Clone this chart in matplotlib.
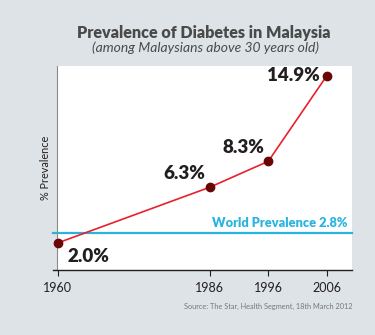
import matplotlib
matplotlib.use("Agg")
import matplotlib.pyplot as plt

years = [1960, 1986, 1996, 2006]
prevalence = [2.0, 6.3, 8.3, 14.9]
labels = ["2.0%", "6.3%", "8.3%", "14.9%"]
world_prevalence = 2.8
tick_years = [1960, 1986, 1996, 2006]

bg = "#dde3e6"
plt.rcParams['font.family'] = ['Lato', 'DejaVu Sans']

fig = plt.figure(figsize=(3.75, 3.35), dpi=100, facecolor=bg)
ax = fig.add_axes([57.5/375, 1 - 270/335, (352-57.5)/375, (270-66)/335])
ax.set_facecolor("white")

ax.plot(years, prevalence, color="#e8202a", lw=1.2, zorder=3)
ax.plot(years, prevalence, 'o', color="#6b0505", ms=6, zorder=4, clip_on=False)
ax.axhline(world_prevalence, color="#29b4e0", lw=1.6, zorder=2, xmin=-0.015, clip_on=False)
ax.text(2009.5, world_prevalence + 0.25, "World Prevalence 2.8%", color="#29b4e0",
        fontsize=9.2, fontweight="heavy", ha="right", va="bottom")

offsets = [(7, -10, "left", "center"), (-3, 4, "right", "bottom"),
           (-3, 4, "right", "bottom"), (-5, 0, "right", "center")]
for x, y, t, (dx, dy, ha, va) in zip(years, prevalence, labels, offsets):
    ax.annotate(t, (x, y), xytext=(dx, dy), textcoords="offset points",
                ha=ha, va=va, fontsize=13.5, fontweight="heavy", color="#231f20")

ax.set_xlim(1960, 2010.3)
ax.set_ylim(-0.08, 15.65)
ax.set_xticks(tick_years)
ax.set_xticklabels([str(y) for y in tick_years], fontsize=9, color="#231f20")
ax.set_yticks([])
ax.tick_params(axis="x", direction="out", length=4, width=0.8, color="#231f20", pad=5)
for s in ["top", "right"]:
    ax.spines[s].set_visible(False)
ax.spines["left"].set_color("#8a8a8a")
ax.spines["left"].set_linewidth(0.8)
ax.spines["bottom"].set_color("#231f20")
ax.spines["bottom"].set_linewidth(1.0)
ax.spines["bottom"].set_bounds(1959.3, 2010.3)
ax.set_ylabel("% Prevalence", fontsize=7.8, color="#231f20", labelpad=5)

fig.text(204/375, 1 - 33/335, "Prevalence of Diabetes in Malaysia", ha="center", va="center",
         fontsize=11.6, fontweight="heavy", color="#4a4a4a")
fig.text(205/375, 1 - 48/335, "(among Malaysians above 30 years old)", ha="center", va="center",
         fontsize=10, style="italic", color="#4a4a4a")
fig.text(352/375, 1 - 306/335, "Source: The Star, Health Segment, 18th March 2012", ha="right",
         va="center", fontsize=5.3, color="#777777")

fig.savefig("out.png", dpi=100, facecolor=bg)
